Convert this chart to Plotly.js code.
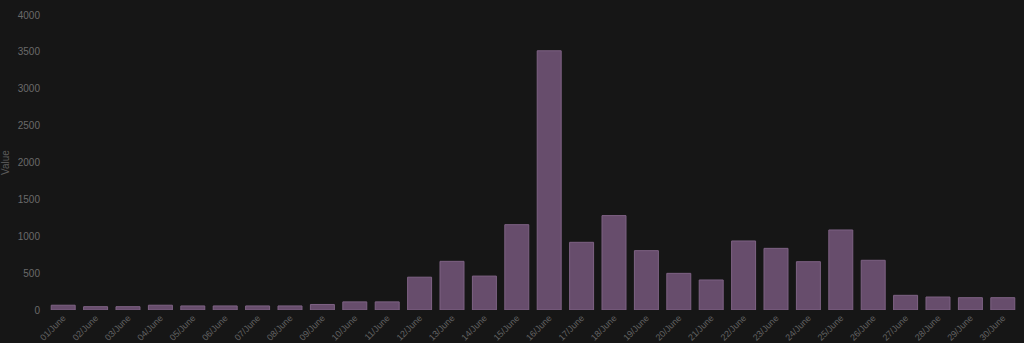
<!DOCTYPE html>
<html>
<head>
<meta charset="utf-8">
<script src="https://cdn.plot.ly/plotly-3.0.1.min.js"></script>
<style>
html,body{margin:0;padding:0;background:#161616;}
#chart{width:1024px;height:343px;}
</style>
</head>
<body>
<div id="chart"></div>
<script>
const categories = ["01/June","02/June","03/June","04/June","05/June","06/June","07/June","08/June","09/June","10/June",
  "11/June","12/June","13/June","14/June","15/June","16/June","17/June","18/June","19/June","20/June",
  "21/June","22/June","23/June","24/June","25/June","26/June","27/June","28/June","29/June","30/June"];
const values = [65,45,45,65,55,55,55,55,75,110,
  110,445,660,460,1157,3515,918,1280,805,497,
  407,936,836,655,1085,674,199,176,167,167];
const yTicks = [0,500,1000,1500,2000,2500,3000,3500,4000];

Plotly.newPlot('chart', [{
  type: 'bar',
  x: categories,
  y: values,
  marker: {color: '#674d6c', line: {color: '#7e6284', width: 1}},
  hoverinfo: 'x+y'
}], {
  width: 1024, height: 343,
  paper_bgcolor: '#161616', plot_bgcolor: '#161616',
  margin: {l: 47, r: 5, t: 15, b: 33},
  bargap: 0.26,
  showlegend: false,
  font: {family: '"Liberation Sans", Arial, sans-serif', size: 10, color: '#6a6a6a'},
  xaxis: {
    type: 'category', tickangle: -45, showgrid: false, zeroline: false,
    showline: false, ticks: '', ticklen: 0, tickfont: {size: 9, color: '#626262'}, automargin: false
  },
  yaxis: {
    range: [0, 4000], tickvals: yTicks, showgrid: false, zeroline: false, showline: false,
    ticks: '', ticklabelstandoff: 6, tickfont: {size: 10, color: '#6a6a6a'},
    title: {text: 'Value', font: {size: 10, color: '#5c5c5c'}, standoff: 12}, automargin: false
  }
}, {displayModeBar: false, staticPlot: true});
</script>
</body>
</html>
